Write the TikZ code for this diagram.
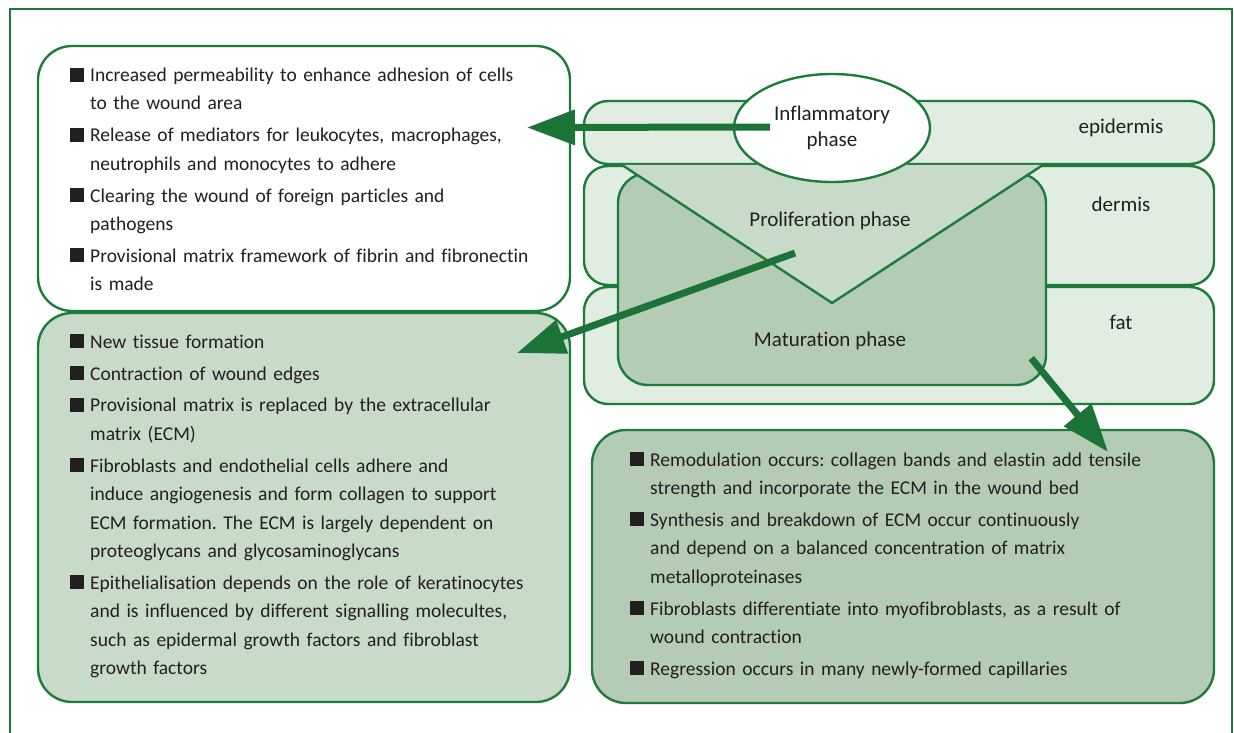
\documentclass[tikz,border=0pt]{standalone}
\usepackage{fontspec}
\setmainfont[Ligatures=NoCommon]{Carlito}
\usepackage{xcolor}
\usepackage{tikz}
\usetikzlibrary{shapes,shapes.geometric}
\usetikzlibrary{calc,arrows.meta,positioning}
\definecolor{gborder}{HTML}{1E7B3A}
\definecolor{garrow}{HTML}{1B7337}
\definecolor{glight}{HTML}{E1EDE1}
\definecolor{gmid}{HTML}{C8DBC8}
\definecolor{gdark}{HTML}{B3CCB3}
\definecolor{txt}{HTML}{231F20}
\frenchspacing
\newcommand{\bitem}[1]{\begingroup\let\\\newline\par\hangindent=20pt\hangafter=1\noindent\makebox[20pt][l]{\rule{14pt}{14pt}}#1\par\endgroup\vspace{3.5pt}}
\tikzset{
  infobox/.style={draw=gborder, line width=2.4pt, rounded corners=34pt, inner sep=0pt, outer sep=0pt},
  band/.style={draw=gborder, fill=glight, line width=2.4pt, rounded corners=24pt, minimum width=630pt, inner sep=0pt, outer sep=0pt},
  bullets/.style={anchor=north west, inner sep=0pt, text width=560pt, align=left, text=txt, font=\fontsize{19.5}{28.4}\selectfont},
  lbl/.style={text=txt, font=\fontsize{21}{26}\selectfont, align=center},
  bigarrow/.style={draw=garrow, line width=7pt, -{Triangle[length=48pt,width=34pt]}}
}
\begin{document}
\begin{tikzpicture}[x=1pt,y=-1pt]
\useasboundingbox (0,0) rectangle (1234,733);
% outer frame
\draw[gborder, line width=1.4pt] (10,760) |- (1232,9) -- (1232,760);

% left boxes
\node[infobox, fill=white, minimum width=532pt, minimum height=265pt] (inflbox) at (304,178.5) {};
\node[infobox, fill=gmid, minimum width=532pt, minimum height=389pt, below=2pt of inflbox] (prolbox) {};
\node[infobox, fill=gdark, minimum width=622pt, minimum height=273pt] (matbox) at (903,566.5) {};

% skin layers
\node[band, minimum height=63pt] (epi) at (899,132.5) {};
\node[band, minimum height=119pt, below=2pt of epi] (der) {};
\node[band, minimum height=117pt, below=2pt of der] (fat) {};
\node[lbl] at ($(epi.east)+(-93,-5)$) {epidermis};
\node[lbl] at ($(der.north east)+(-93,38)$) {dermis};
\node[lbl] at ($(fat.north east)+(-93,35)$) {fat};

% envelope
\node[draw=gborder, fill=gdark, line width=2.4pt, rounded corners=30pt, minimum width=428pt, minimum height=212pt] (mat) at (832,279) {};
\coordinate (flapL) at ($(mat.north west)+(5,-7)$);
\coordinate (flapR) at ($(mat.north east)+(-4,-7)$);
\coordinate (flapB) at ($(mat.center)+(0,24)$);
\fill[gmid] (flapL) -- (flapB) -- (flapR) -- cycle;
\draw[gborder, line width=2.4pt] (flapL) -- (flapB) -- (flapR);
\node[lbl] at ($(mat.center)+(-2,-58)$) {Proliferation phase};
\node[lbl] at ($(mat.center)+(-2,62)$) {Maturation phase};
\node[ellipse, draw=gborder, fill=white, line width=2.4pt, minimum width=196pt, minimum height=108pt, inner sep=0pt, lbl] (infl) at (832,128) {Inflammatory\\phase};

% texts
\node[bullets] (infltxt) at (70,53) {%
\bitem{Increased permeability to enhance adhesion of cells\\to the wound area}
\bitem{Release of mediators for leukocytes, macrophages,\\neutrophils and monocytes to adhere}
\bitem{Clearing the wound of foreign particles and\\pathogens}
\bitem{Provisional matrix framework of fibrin and fibronectin\\is made}};
\node[bullets] (proltxt) at (70,319.5) {%
\bitem{New tissue formation}
\bitem{Contraction of wound edges}
\bitem{Provisional matrix is replaced by the extracellular\\matrix (ECM)}
\bitem{Fibroblasts and endothelial cells adhere and\\induce angiogenesis and form collagen to support\\ECM formation. The ECM is largely dependent on\\proteoglycans and glycosaminoglycans}
\bitem{Epithelialisation depends on the role of keratinocytes\\and is influenced by different signalling molecultes,\\such as epidermal growth factors and fibroblast\\growth factors}};
\node[bullets] (mattxt) at (630,437.5) {%
\bitem{Remodulation occurs: collagen bands and elastin add tensile\\strength and incorporate the ECM in the wound bed}
\bitem{Synthesis and breakdown of ECM occur continuously\\and depend on a balanced concentration of matrix\\metalloproteinases}
\bitem{Fibroblasts differentiate into myofibroblasts, as a result of\\wound contraction}
\bitem{Regression occurs in many newly-formed capillaries}};

% arrows
\coordinate (tipA) at ($(inflbox.east)+(-43,-51)$);
\coordinate (tipB) at ($(prolbox.north east)+(-53,40)$);
\coordinate (tipC) at ($(matbox.north east)+(-106,22)$);
\draw[bigarrow] ($(infl.center)+(-62,-1)$) -- (tipA);
\draw[bigarrow] ($(mat.center)+(-37,-26)$) -- (tipB);
\draw[bigarrow] ($(mat.south east)+(-16,-28)$) -- (tipC);
\end{tikzpicture}
\end{document}
